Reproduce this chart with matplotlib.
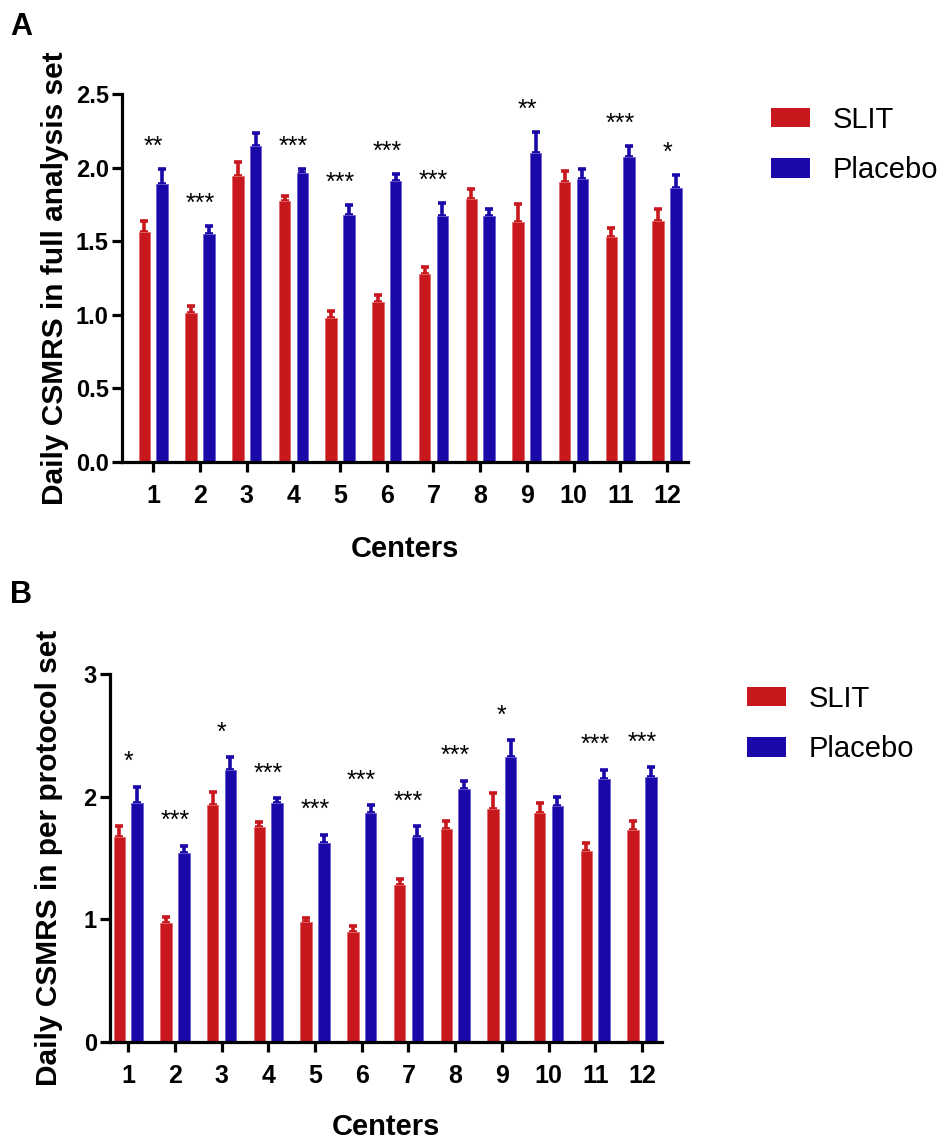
import matplotlib
matplotlib.use("Agg")
import matplotlib.pyplot as plt
import numpy as np
from matplotlib.patches import Patch

plt.rcParams['font.family'] = ['Liberation Sans', 'DejaVu Sans']

centers = [str(i) for i in range(1, 13)]

# Panel A: full analysis set
a_slit = [1.56, 1.01, 1.94, 1.77, 0.98, 1.09, 1.28, 1.79, 1.63, 1.90, 1.53, 1.64]
a_slit_err = [0.075, 0.05, 0.10, 0.035, 0.045, 0.045, 0.045, 0.065, 0.12, 0.075, 0.06, 0.08]
a_plac = [1.89, 1.55, 2.15, 1.96, 1.68, 1.91, 1.67, 1.67, 2.10, 1.92, 2.07, 1.86]
a_plac_err = [0.10, 0.055, 0.085, 0.03, 0.065, 0.045, 0.09, 0.05, 0.14, 0.07, 0.075, 0.09]
a_sig = ['**', '***', '', '***', '***', '***', '***', '', '**', '', '***', '*']

# Panel B: per protocol set
b_slit = [1.67, 0.97, 1.93, 1.75, 0.98, 0.90, 1.28, 1.74, 1.90, 1.87, 1.56, 1.73]
b_slit_err = [0.09, 0.05, 0.11, 0.04, 0.03, 0.045, 0.045, 0.06, 0.13, 0.075, 0.06, 0.07]
b_plac = [1.95, 1.54, 2.22, 1.95, 1.62, 1.87, 1.67, 2.06, 2.32, 1.92, 2.14, 2.16]
b_plac_err = [0.13, 0.06, 0.10, 0.04, 0.07, 0.06, 0.09, 0.07, 0.14, 0.075, 0.08, 0.08]
b_sig = ['*', '***', '*', '***', '***', '***', '***', '***', '*', '', '***', '***']

RED = '#C8171D'
BLUE = '#1B08A8'

fig = plt.figure(figsize=(9.45, 11.43), dpi=100)

def draw(ax, slit, slit_err, plac, plac_err, sig, ylim, yticks, yticklabels, ylabel,
         xlim, star_off, ytick_fs, ylabelpad, xlabelpad):
    x = np.arange(1, len(centers) + 1)
    off = 0.19
    w = 0.245
    ax.bar(x - off, slit, w, color=RED, edgecolor='#E06a6a', linewidth=0.6, zorder=2)
    ax.bar(x + off, plac, w, color=BLUE, edgecolor='#6a60d0', linewidth=0.6, zorder=2)
    ax.errorbar(x - off, slit, yerr=[np.zeros(len(slit)), slit_err], fmt='none',
                ecolor=RED, elinewidth=2.6, capsize=3, capthick=2.6, zorder=1)
    ax.errorbar(x + off, plac, yerr=[np.zeros(len(plac)), plac_err], fmt='none',
                ecolor=BLUE, elinewidth=2.6, capsize=3, capthick=2.6, zorder=1)
    for xi, p, pe, s in zip(x, plac, plac_err, sig):
        if s:
            ax.text(xi, p + pe + star_off, s, ha='center', va='center', fontsize=18)
    ax.set_xlim(*xlim)
    ax.set_ylim(*ylim)
    ax.set_xticks(x)
    ax.set_xticklabels(centers, fontsize=18, fontweight='bold')
    ax.set_yticks(yticks)
    ax.set_yticklabels(yticklabels, fontsize=ytick_fs, fontweight='bold')
    for sp in ['top', 'right']:
        ax.spines[sp].set_visible(False)
    for sp in ['left', 'bottom']:
        ax.spines[sp].set_linewidth(2.3)
    ax.tick_params(axis='both', width=2.3, length=7.5, direction='out')
    ax.tick_params(axis='x', pad=8)
    ax.tick_params(axis='y', pad=2)
    ax.set_xlabel('Centers', fontsize=21, fontweight='bold', labelpad=xlabelpad)
    ax.set_ylabel(ylabel, fontsize=21.5, fontweight='bold', labelpad=ylabelpad)

axA = fig.add_axes([122/945, 1-462/1143, (688-122)/945, (462-94)/1143])
draw(axA, a_slit, a_slit_err, a_plac, a_plac_err, a_sig, (0, 2.5),
     [0, 0.5, 1.0, 1.5, 2.0, 2.5], ['0.0', '0.5', '1.0', '1.5', '2.0', '2.5'],
     'Daily CSMRS in full analysis set', (0.33, 12.45), 0.15, 17, 5, 20)

axB = fig.add_axes([110/945, 1-1042/1143, (662-110)/945, (1042-674)/1143])
draw(axB, b_slit, b_slit_err, b_plac, b_plac_err, b_sig, (0, 3),
     [0, 1, 2, 3], ['0', '1', '2', '3'],
     'Daily CSMRS in per protocol set', (0.61, 12.43), 0.2, 17, 15, 18)

handles = [Patch(facecolor=RED, label='SLIT'), Patch(facecolor=BLUE, label='Placebo')]
for anchor in [(771/945, 1-106/1143), (747/945, 1-685/1143)]:
    fig.legend(handles=handles, loc='upper left', bbox_to_anchor=anchor,
               frameon=False, fontsize=21, handlelength=1.34, handleheight=0.65,
               handletextpad=0.76, labelspacing=0.77, borderpad=0, borderaxespad=0)

fig.text(10/945, 1-27/1143, 'A', fontsize=22, fontweight='bold', va='center', ha='left')
fig.text(10/945, 1-595/1143, 'B', fontsize=22, fontweight='bold', va='center', ha='left')

fig.savefig('out.png', dpi=100)
